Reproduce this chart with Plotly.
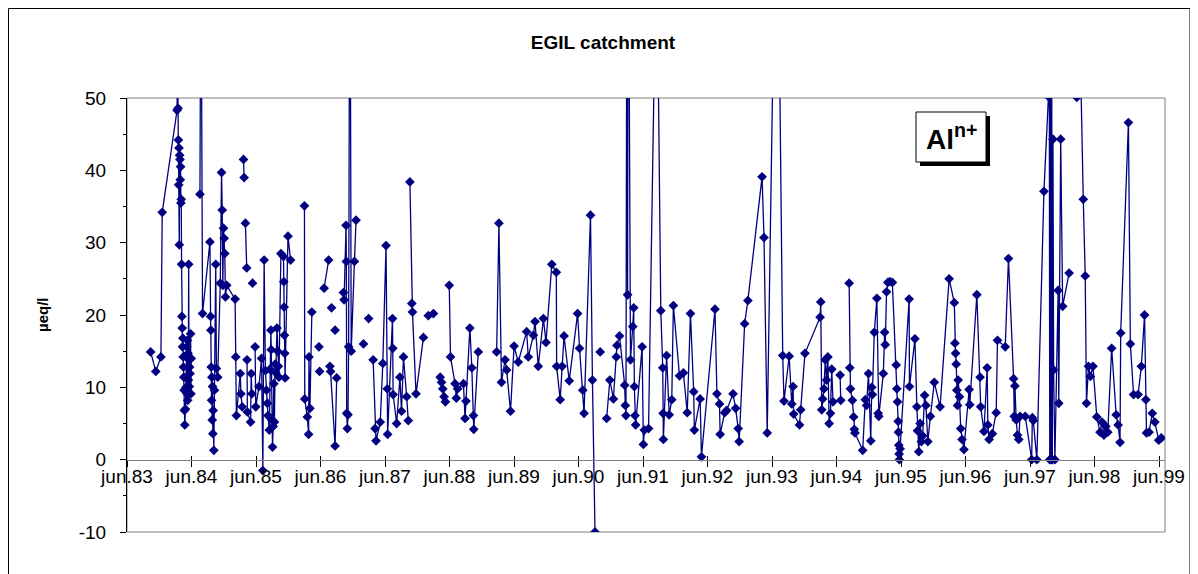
import plotly.graph_objects as go

# sampling dates as decimal years, Al(n+) in ueq/l; None = gap in the series
yrs_a = [1983.78, 1983.86, 1983.94, 1983.96, 1984.19, 1984.20, 1984.205, 1984.21, 1984.215, 1984.22,
         1984.225, 1984.23, 1984.235, 1984.24, 1984.245, 1984.25, 1984.255, 1984.26, 1984.265, 1984.27,
         1984.275, 1984.28, 1984.285, 1984.29, 1984.295, 1984.30, 1984.305, 1984.31, 1984.32, 1984.33,
         1984.34, 1984.345, 1984.35, 1984.355, 1984.36, 1984.365, 1984.37, 1984.375, 1984.38, 1984.385,
         1984.39, 1984.40, 1984.405, 1984.41, None, 1984.545, 1984.56, 1984.585, 1984.70, 1984.71,
         1984.715, 1984.72, 1984.725, 1984.73, 1984.735, 1984.74, 1984.745, 1984.75, 1984.76, 1984.77,
         1984.79, 1984.80, 1984.82, 1984.86, 1984.88, 1984.89, 1984.90, 1984.91, 1984.92, 1984.93,
         1984.94, 1984.96]
al_a = [14.9, 12.2, 14.2, 34.2, 48.3, 62, 48.6, 44.2, 38.0, 43.1,
        29.7, 42.1, 41.5, 38.7, 40.5, 35.5, 36.0, 27.0, 19.8, 18.2,
        15.6, 16.8, 14.2, 12.8, 11.4, 9.6, 6.8, 4.8, 7.0, 10.0,
        15.6, 9.1, 16.5, 8.2, 14.7, 11.0, 27.0, 13.8, 10.1, 12.8,
        11.9, 17.4, 9.1, 14.0, None, 36.7, 75, 20.2, 30.1, 19.8,
        17.9, 12.8, 8.2, 11.4, 5.5, 10.1, 3.6, 6.8, 1.3, 9.6,
        27.0, 12.6, 11.4, 24.4, 39.7, 34.5, 24.1, 32.0, 30.6, 28.5,
        22.5, 24.1]

yrs_b = [1985.09, 1985.10, 1985.11, 1985.17, 1985.18, 1985.20, None, 1985.22, 1985.23, None,
         1985.25, 1985.27, None, 1985.275, 1985.28, 1985.33, 1985.34, 1985.35, None, 1985.36,
         None, 1985.40, 1985.41, 1985.46, 1985.50, 1985.52, 1985.54, 1985.56, 1985.575, 1985.59,
         1985.60, 1985.62, 1985.63, 1985.645, 1985.65, 1985.66, 1985.67, 1985.68, 1985.69, 1985.70,
         1985.71, 1985.72, 1985.74, 1985.75, 1985.76, 1985.77, 1985.80, 1985.84, 1985.845, 1985.85,
         1985.855, 1985.86, 1985.865, 1985.91, 1985.95, None]
al_b = [22.2, 14.2, 6.1, 11.9, 9.1, 7.3, None, 41.5, 39.0, None,
        32.7, 26.5, None, 13.8, 6.6, 5.2, 11.9, 9.1, None, 24.4,
        None, 15.6, 7.3, 10.1, 14.0, -1.5, 27.6, 12.3, 9.6, 7.8,
        6.1, 4.1, 12.5, 17.9, 15.2, 5.5, 1.75, 4.6, 10.5, 5.2,
        13.2, 12.0, 18.2, 15.0, 12.9, 11.4, 28.5, 28.1, 24.6, 21.1,
        17.2, 14.7, 11.3, 30.9, 27.6, None]

yrs_c = [1986.165, 1986.17, 1986.21, 1986.23, 1986.235, 1986.25, 1986.28, None, 1986.39, None,
         1986.40, None, 1986.47, 1986.54, None, 1986.56, 1986.57, 1986.64, 1986.665, None,
         1986.585, None, 1986.64, None, 1986.77, 1986.78, 1986.81, 1986.815, 1986.82, 1986.83,
         1986.84, 1986.85, 1986.87, 1986.89, 1986.94, 1986.965, None, 1987.08, None, 1987.16,
         None, 1987.23, 1987.26, 1987.275, 1987.34, 1987.38, 1987.43, 1987.45, 1987.455, 1987.53,
         1987.535, 1987.54, 1987.595, 1987.645, 1987.67, 1987.70, 1987.75, 1987.775, None, 1987.80,
         1987.83, 1987.84, 1987.895, 1988.01, None, 1988.085, 1988.165, None]
al_c = [35.1, 8.4, 5.9, 3.5, 14.2, 7.1, 20.4, None, 15.6, None,
        12.2, None, 23.7, 27.6, None, 12.9, 12.2, 1.9, 11.3, None,
        21.0, None, 17.9, None, 23.1, 22.1, 32.4, 27.4, 6.4, 4.3,
        6.2, 15.6, 85, 15.0, 27.4, 33.1, None, 16.0, None, 19.5,
        None, 13.8, 4.3, 2.6, 5.2, 13.3, 29.6, 9.8, 3.5, 19.5,
        15.4, 9.0, 5.0, 11.4, 6.7, 14.2, 8.7, 5.4, None, 38.4,
        21.6, 20.4, 9.1, 16.9, None, 19.9, 20.2, None]

yrs_d = [1988.27, 1988.29, 1988.31, 1988.33, 1988.35, None, 1988.41, 1988.43, 1988.50, 1988.52,
         1988.54, 1988.63, 1988.655, 1988.67, 1988.73, 1988.76, 1988.785, 1988.79, 1988.86, None,
         1989.145, 1989.18, 1989.22, 1989.275, 1989.30, 1989.36, 1989.415, 1989.48, 1989.61, 1989.635,
         1989.715, 1989.74, 1989.79, 1989.87, 1989.91, 1990.00, 1990.07, 1990.075, 1990.13, 1990.16,
         1990.19, 1990.27, 1990.40, 1990.43, 1990.48, 1990.50, 1990.60, 1990.63, 1990.67, None,
         1990.75, None]
al_d = [11.4, 10.7, 9.8, 8.7, 8.0, None, 24.1, 14.2, 10.5, 8.5,
        9.8, 10.5, 5.7, 8.1, 18.2, 12.7, 6.1, 4.2, 14.9, None,
        14.9, 32.7, 10.7, 13.8, 12.4, 6.7, 15.7, 13.5, 17.7, 14.2,
        17.2, 19.1, 12.9, 19.5, 16.2, 27.0, 25.9, 12.9, 8.3, 12.9,
        17.1, 10.9, 20.2, 15.4, 9.6, 6.4, 33.8, 11.0, -10, None,
        14.9, None]

yrs_e = [1990.85, 1990.90, 1990.955, 1991.00, 1991.01, 1991.05, 1991.13, 1991.14, 1991.15, 1991.165,
         1991.175, 1991.185, 1991.22, 1991.255, 1991.27, 1991.28, 1991.29, 1991.30, 1991.40, 1991.42,
         1991.435, 1991.50, 1991.625, 1991.69, 1991.72, 1991.725, 1991.73, 1991.78, 1991.82, 1991.86,
         1991.885, 1991.98, 1992.04, 1992.10, 1992.15, 1992.20, 1992.21, 1992.30, 1992.32, 1992.53,
         1992.56, 1992.60, 1992.61, 1992.68, 1992.71, 1992.81, 1992.85, 1992.89, 1992.905, 1992.99,
         1993.04, 1993.26, 1993.29, 1993.34, 1993.49, 1993.58, 1993.60, 1993.68, 1993.72, 1993.74,
         1993.75, 1993.84, 1993.86, 1993.925]
al_e = [5.7, 11.0, 8.4, 14.2, 15.8, 17.1, 10.3, 7.5, 6.1, 80,
        22.8, 85, 13.8, 18.4, 21.0, 10.1, 6.1, 4.8, 15.6, 2.1,
        4.1, 4.3, 75, 20.6, 12.7, 6.4, 2.8, 14.4, 6.2, 8.3,
        21.3, 11.6, 12.0, 6.5, 20.2, 9.4, 4.1, 8.4, 0.4, 20.8,
        9.1, 7.7, 3.5, 6.5, 6.8, 9.1, 7.1, 4.3, 2.5, 18.8,
        22.0, 39.1, 30.7, 3.7, 90, 14.4, 8.1, 14.3, 7.7, 10.1,
        6.3, 4.8, 6.9, 14.7]

yrs_f = [1994.16, 1994.17, 1994.185, 1994.20, 1994.22, 1994.24, 1994.26, 1994.28, 1994.30, 1994.32,
         1994.34, 1994.36, None, 1994.47, 1994.48, None, 1994.61, 1994.62, 1994.63, 1994.66,
         1994.68, 1994.69, 1994.70, 1994.82, 1994.86, 1994.88, 1994.91, 1994.945, 1994.96, 1994.97,
         1995.00, 1995.04, 1995.06, 1995.07, 1995.14, 1995.16, 1995.17, 1995.19, 1995.21, 1995.24,
         1995.28, 1995.34, 1995.35, 1995.36, 1995.37, 1995.375, 1995.38, 1995.385, 1995.39, 1995.40,
         1995.54, 1995.545, 1995.63, 1995.66, 1995.67, 1995.69, 1995.71, 1995.73, 1995.75, 1995.78,
         1995.80, 1995.83, 1995.87, 1995.93, 1996.02]
al_f = [19.7, 21.8, 6.9, 8.4, 9.8, 13.8, 11.0, 14.2, 5.0, 6.4,
        12.5, 8.0, None, 11.7, 8.2, None, 24.4, 12.7, 9.8, 8.2,
        5.9, 4.2, 3.7, 1.3, 8.3, 7.5, 11.9, 2.6, 10.0, 9.0,
        17.6, 22.3, 6.4, 6.0, 11.9, 17.6, 15.9, 23.2, 24.5, 24.6,
        24.5, 13.1, 9.8, 8.0, 5.3, 3.8, 2.0, 0.8, 0.0, 1.5,
        22.2, 10.1, 16.7, 7.3, 4.0, 1.1, 5.0, 2.5, 3.3, 8.9,
        7.5, 2.5, 6.0, 10.7, 7.3]

yrs_g = [1996.16, 1996.24, 1996.25, 1996.26, 1996.27, 1996.28, 1996.29, 1996.30, 1996.32, 1996.34,
         1996.36, 1996.39, 1996.47, 1996.48, 1996.59, 1996.64, 1996.65, 1996.70, 1996.75, 1996.76,
         1996.78, 1996.83, 1996.89, 1996.91, 1997.03, 1997.08, 1997.16, 1997.17, 1997.18, 1997.20,
         1997.22, 1997.24, 1997.26, 1997.34, 1997.44, 1997.45, 1997.465, 1997.52, 1997.63, 1997.70,
         1997.71, 1997.72, 1997.73, 1997.74, 1997.75, 1997.76, 1997.77, 1997.78, 1997.80, 1997.85,
         1997.86, 1997.89, 1997.92, 1998.02, None]
al_g = [25.0, 21.7, 16.1, 14.7, 13.2, 9.6, 7.5, 11.0, 8.7, 4.3,
        2.8, 1.4, 9.7, 7.6, 22.8, 11.4, 7.3, 3.9, 12.7, 4.8,
        2.8, 3.6, 6.5, 16.5, 15.6, 27.8, 11.2, 6.0, 10.2, 5.5,
        3.4, 2.8, 6.0, 6.0, 0.0, 5.8, 5.4, 0.0, 37.1, 50.2,
        80, 0.0, 70, 0.0, 60, 0.0, 44.3, 12.4, 0.0, 23.4,
        7.8, 44.3, 21.2, 25.8, None]

yrs_h = [1998.14, 1998.19, 1998.24, 1998.27, 1998.29, 1998.32, 1998.35, 1998.39, 1998.45, 1998.50,
         1998.53, 1998.56, 1998.59, 1998.62, 1998.68, 1998.75, 1998.78, 1998.81, 1998.82, 1998.94,
         1998.97, 1999.02, 1999.09, 1999.14, 1999.19, 1999.21, 1999.22, 1999.26, 1999.31, 1999.35,
         1999.41, 1999.45]
al_h = [50.1, 58, 36.0, 25.4, 7.8, 12.9, 11.5, 12.9, 5.9, 3.8,
        5.2, 3.4, 4.6, 3.8, 15.4, 6.2, 4.8, 2.4, 17.5, 46.6,
        16.0, 9.0, 9.0, 12.9, 20.0, 8.3, 3.7, 3.8, 6.4, 5.2,
        2.7, 3.0]

tick_years = list(range(1983, 2000))
tick_labels = ["jun.%02d" % (y % 100) for y in tick_years]
y_ticks = [-10, 0, 10, 20, 30, 40, 50]
y_labels = [str(v) for v in y_ticks]

years = yrs_a + yrs_b + yrs_c + yrs_d + yrs_e + yrs_f + yrs_g + yrs_h
al = al_a + al_b + al_c + al_d + al_e + al_f + al_g + al_h
assert len(years) == len(al)

JUNE = 0.414  # 1 June as fraction of year
tick_vals = [y + JUNE for y in tick_years]

# the page body has an 8px margin, so the figure starts at page (8, 8)
OFF = 8
W, H = 1198 - OFF, 574 - OFF
# plot area in page pixels: x 127..1165, y 98..532
L, R, T, B = 127, 1165, 98, 532
def px(x):
    return (x - L) / (R - L)
def py(y):
    return (B - y) / (B - T)

FONT = "Liberation Sans, Arial, sans-serif"
NAVY = "#000080"

fig = go.Figure()
fig.add_trace(go.Scatter(x=years, y=al, mode="lines+markers",
                         line=dict(color=NAVY, width=1.3),
                         marker=dict(symbol="diamond", size=7.5, color=NAVY),
                         connectgaps=False, showlegend=False))
# empty trace so the overlay axis (lower half of the x ticks) is drawn
fig.add_trace(go.Scatter(x=[None], y=[None], xaxis="x2", showlegend=False, hoverinfo="skip"))

fig.update_layout(
    width=W, height=H,
    margin=dict(l=L - OFF, r=W - (R - OFF), t=T - OFF, b=H - (B - OFF)),
    paper_bgcolor="white", plot_bgcolor="white",
    font=dict(family=FONT, size=19, color="black"),
    title=dict(text="<b>EGIL catchment</b>", x=0.5, xanchor="center",
               y=1 - (42 - OFF) / H, yanchor="middle", font=dict(size=19)),
    xaxis=dict(range=[1983 + JUNE, 1999.507], tickvals=tick_vals, ticktext=tick_labels,
               anchor="free", position=1 / 6, showline=True, linecolor="#808080", linewidth=1,
               ticks="inside", ticklen=4, tickcolor="black", showgrid=False, zeroline=False,
               tickfont=dict(size=19)),
    xaxis2=dict(overlaying="x", matches="x", anchor="free", position=1 / 6,
                tickvals=tick_vals, ticks="outside", ticklen=6, tickcolor="black",
                showticklabels=False, showline=False, showgrid=False, zeroline=False),
    yaxis=dict(range=[-10, 50], tickvals=y_ticks, ticktext=y_labels,
               showline=True, linecolor="black", linewidth=1,
               ticks="outside", ticklen=6, tickcolor="black", showgrid=False, zeroline=False,
               minor=dict(dtick=5, ticks="outside", ticklen=3, tickcolor="black"),
               ticklabelstandoff=10, tickfont=dict(size=19)),
)

fig.add_shape(type="rect", xref="paper", yref="paper", x0=0, x1=1, y0=0, y1=1,
              line=dict(color="#808080", width=1), layer="below")
fig.add_shape(type="rect", xref="paper", yref="paper", x0=px(8.5), x1=px(1190), y0=py(590), y1=py(8.5),
              line=dict(color="black", width=1))
# label box with drop shadow
fig.add_shape(type="rect", xref="paper", yref="paper", x0=px(920), x1=px(990), y0=py(166), y1=py(116),
              line=dict(width=0), fillcolor="black")
fig.add_shape(type="rect", xref="paper", yref="paper", x0=px(916), x1=px(986), y0=py(162), y1=py(112),
              line=dict(color="black", width=1), fillcolor="white")
fig.add_annotation(xref="paper", yref="paper", x=px(951), y=py(137), showarrow=False,
                   text="<b>Al<sup>n+</sup></b>", font=dict(size=28, color="black"),
                   xanchor="center", yanchor="middle")
fig.add_annotation(xref="paper", yref="paper", x=px(42), y=py(315), showarrow=False,
                   text="<b>µeq/l</b>", textangle=-90, font=dict(size=15, color="black"),
                   xanchor="center", yanchor="middle")

fig.write_html("out.html")
